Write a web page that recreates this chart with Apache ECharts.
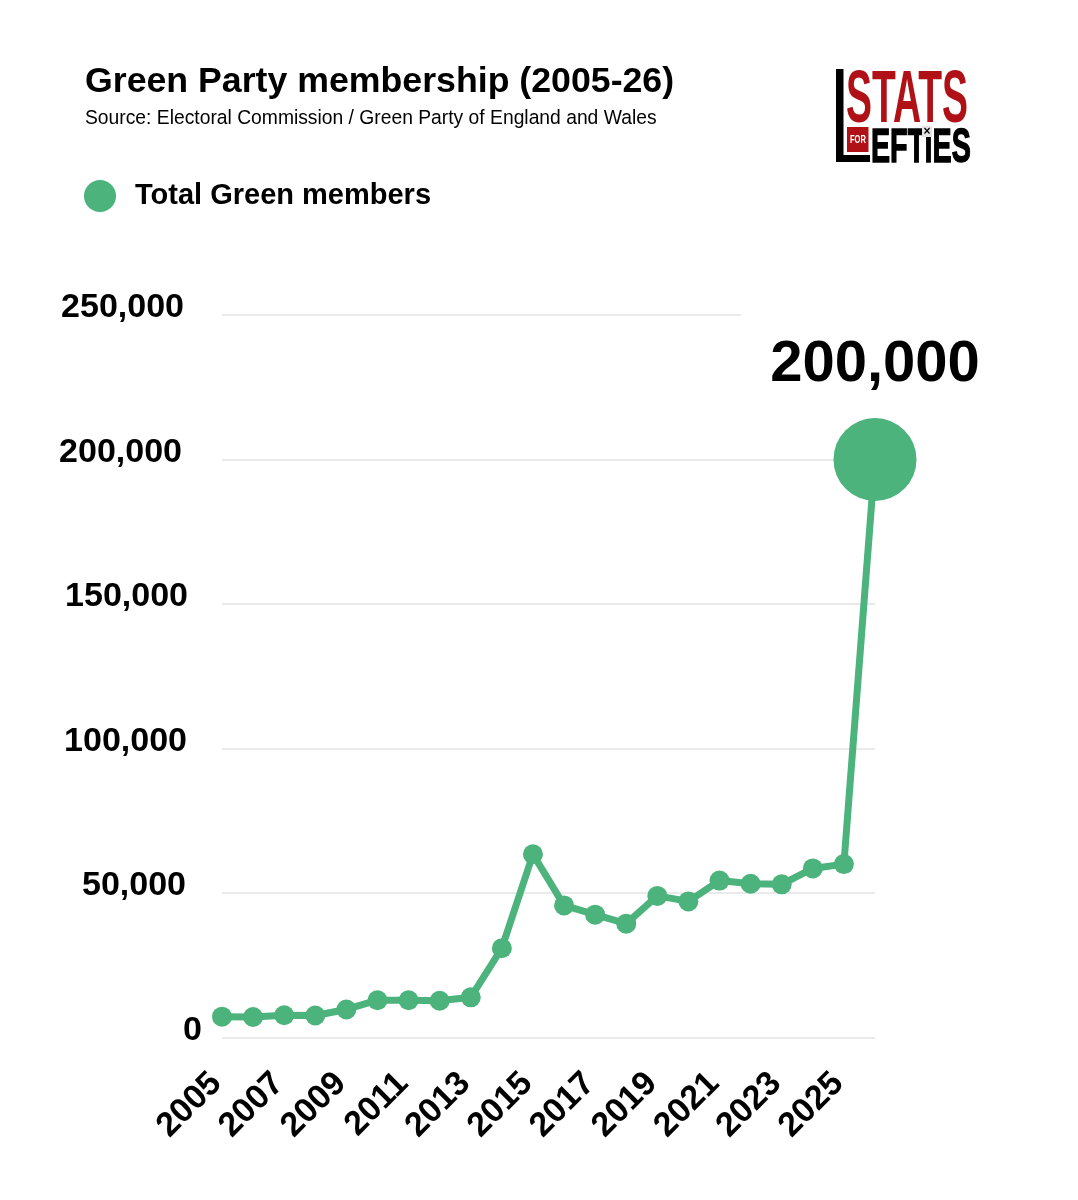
<!DOCTYPE html>
<html>
<head>
<meta charset="utf-8">
<style>
  html, body { margin: 0; padding: 0; background: #fff; }
  #chart { width: 1078px; height: 1200px; }
</style>
<script src="https://cdn.jsdelivr.net/npm/echarts@6/dist/echarts.min.js"></script>
</head>
<body>
<div id="chart"></div>
<script>
// Data
var years = ['2005','2006','2007','2008','2009','2010','2011','2012','2013','2014','2015',
             '2016','2017','2018','2019','2020','2021','2022','2023','2024','2025','2026'];
var members = [7200,7100,7700,7600,9700,12900,12900,12700,13900,30900,63400,
               45700,42500,39400,49000,47100,54300,53200,53000,58500,60000,200000];
var seriesName = 'Total Green members';

var FONT = '"Liberation Sans", Arial, sans-serif';
var GREEN = '#4bb37b';
var GRID = '#e3e3e3';

// the y labels sit by hand in the original, not quite lined up
var yLabelShift = { 0: 0, 50000: 16, 100000: 15, 150000: 14, 200000: 20, 250000: 18 };

var yRich = {};
Object.keys(yLabelShift).forEach(function (v) {
  yRich['v' + v] = {
    fontFamily: FONT, fontSize: 34, fontWeight: 'bold', color: '#000',
    padding: [0, yLabelShift[v], 14, 0]
  };
});

var chart = echarts.init(document.getElementById('chart'), null, { renderer: 'canvas' });

chart.setOption({
  backgroundColor: '#fff',
  animation: false,
  title: {
    text: 'Green Party membership (2005-26)',
    subtext: 'Source: Electoral Commission / Green Party of England and Wales',
    left: 80, top: 59, itemGap: 9,
    textStyle: { fontFamily: FONT, fontSize: 35.7, fontWeight: 'bold', color: '#000' },
    subtextStyle: { fontFamily: FONT, fontSize: 19.3, color: '#000' }
  },
  legend: {
    left: 79, top: 175,
    icon: 'circle', itemWidth: 32, itemHeight: 32, itemGap: 10,
    data: [seriesName],
    textStyle: { fontFamily: FONT, fontSize: 29, fontWeight: 'bold', color: '#000', padding: [7, 0, 0, 14] }
  },
  grid: { left: 222, top: 315, width: 653, height: 722.5, containLabel: false },
  xAxis: {
    type: 'category',
    data: years,
    boundaryGap: false,
    axisLine: { show: false },
    axisTick: { show: false },
    axisLabel: {
      interval: 1, rotate: 45, margin: 35, hideOverlap: false,
      padding: [0, 8, 0, 0],
      fontFamily: FONT, fontSize: 34, fontWeight: 'bold', color: '#000'
    }
  },
  yAxis: {
    type: 'value',
    min: 0, max: 250000, interval: 50000,
    axisLine: { show: false },
    axisTick: { show: false },
    splitLine: { show: true, showMaxLine: false, lineStyle: { color: GRID, width: 1.5 } },
    axisLabel: {
      margin: 20,
      formatter: function (v) { return '{v' + v + '|' + v.toLocaleString('en-GB') + '}'; },
      rich: yRich
    }
  },
  series: [{
    name: seriesName,
    type: 'line',
    data: members.map(function (v, i) {
      if (i < members.length - 1) return v;
      // last point: big dot with its own label
      return {
        value: v,
        symbolSize: 83,
        label: {
          show: true, position: 'top', distance: 24,
          formatter: function (p) { return p.value.toLocaleString('en-GB'); },
          fontFamily: FONT, fontSize: 58, fontWeight: 'bold', color: '#000'
        }
      };
    }),
    symbol: 'circle',
    symbolSize: 20,
    showAllSymbol: true,
    clip: false,
    lineStyle: { color: GREEN, width: 7 },
    itemStyle: { color: GREEN },
    // top gridline stops short of the big number
    markLine: {
      silent: true, symbol: 'none', label: { show: false }, z: 0,
      lineStyle: { color: GRID, width: 1.5, type: 'solid' },
      data: [[{ x: 222, y: 315 }, { x: 741, y: 315 }]]
    }
  }],
  // logo
  graphic: [
    { type: 'rect', shape: { x: 836, y: 69, width: 7.5, height: 93 }, style: { fill: '#000' } },
    { type: 'rect', shape: { x: 836, y: 155, width: 34, height: 7 }, style: { fill: '#000' } },
    { type: 'rect', shape: { x: 847, y: 127, width: 21.5, height: 25 }, style: { fill: '#b01116' } },
    { type: 'text', x: 846, y: 64, scaleX: 0.52, scaleY: 1,
      style: { text: 'STATS', fontFamily: FONT, fontSize: 75, fontWeight: 'bold', fill: '#b01116' } },
    { type: 'text', x: 850, y: 134.5, scaleX: 0.72,
      style: { text: 'FOR', fontFamily: FONT, fontSize: 10.5, fontWeight: 'bold', fill: '#fff' } },
    { type: 'text', x: 871, y: 124, scaleX: 0.585,
      style: { text: 'EFTiES', fontFamily: FONT, fontSize: 49, fontWeight: 'bold', fill: '#000', stroke: '#000', lineWidth: 1.5 } },
    { type: 'rect', shape: { x: 922, y: 126, width: 10, height: 11 }, style: { fill: '#e4e4e4' } },
    { type: 'text', x: 923.5, y: 125.5,
      style: { text: '×', fontFamily: FONT, fontSize: 12, fontWeight: 'bold', fill: '#000' } }
  ]
});
</script>
</body>
</html>
